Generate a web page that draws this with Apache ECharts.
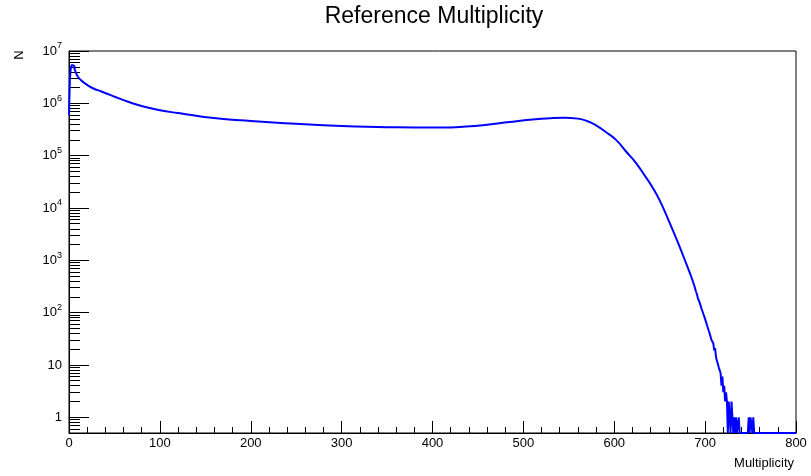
<!DOCTYPE html>
<html>
<head>
<meta charset="utf-8">
<script src="https://cdn.jsdelivr.net/npm/echarts@6/dist/echarts.min.js"></script>
<style>
html, body { margin: 0; padding: 0; background: #fff; }
#chart { width: 811px; height: 476px; }
</style>
</head>
<body>
<div id="chart"></div>
<script>
// 直方图数据 (bin 宽度 1)
// 开头几个 bin, 从 headStart 开始
const headStart = 0
const headN = [6.0e5, 3.0e6, 4.8e6, 5.4e6, 5.6e6, 5.2e6, 4.6e6, 4.1e6, 3.7e6, 3.4e6, 3.15e6]

// 中间平滑部分 (读图取点)
const bodyX = [10, 12, 15, 20, 27, 35, 45, 55, 65, 80, 100, 120, 145, 170, 200, 225, 250, 280, 315, 350,
    380, 410, 437, 460, 485, 510, 530, 545, 560, 570, 580, 591, 602, 613, 624, 633, 642, 650, 661, 670,
    679, 686, 690]
const bodyN = [3.15e6, 2.9e6, 2.6e6, 2.25e6, 1.92e6, 1.7e6, 1.45e6, 1.24e6, 1.07e6, 8.9e5, 7.4e5, 6.5e5, 5.6e5, 5.0e5, 4.6e5, 4.3e5, 4.05e5, 3.8e5, 3.6e5, 3.5e5,
    3.45e5, 3.45e5, 3.6e5, 3.9e5, 4.4e5, 4.9e5, 5.2e5, 5.3e5, 5.1e5, 4.6e5, 3.8e5, 2.8e5, 2.0e5, 1.2e5, 7.2e4, 4.3e4, 2.5e4, 1.4e4, 5.2e3, 2.2e3,
    880, 420, 250]

// 尾部逐 bin, 从 tailStart 开始
const tailStart = 690
const tailN = [250, 225, 190, 175, 155, 150, 120, 115, 95, 85,
    75, 70, 58, 55, 45, 40, 42, 30, 28, 26,
    19, 21, 14, 12, 11, 9, 9, 7, 4, 6,
    3, 4, 2, 3, 2, 0, 2, 1, 0, 2,
    1, 0, 1, 0, 1, 0, 0, 1, 0, 0,
    0, 0, 0, 0, 0, 0, 0, 0, 1, 0,
    1, 1, 0, 1, 0]

// 坐标轴刻度
const xMin = 0
const xMax = 800
const yMin = 0.5
const yMax = 1e7
const yDecades = [1, 10, 1e2, 1e3, 1e4, 1e5, 1e6, 1e7]
const yMinorMantissa = [2, 3, 4, 5, 6, 7, 8, 9]
const yMinorBelowOne = [0.6, 0.7, 0.8, 0.9]

const font = "'Liberation Sans', Arial, Helvetica, sans-serif"

// 对数轴上 0 画在最底部
const toPt = (x, n) => [x, n > 0 ? n : yMin]

const yMinor = yMinorBelowOne.slice()
yDecades.slice(0, -1).forEach(d => {
    yMinorMantissa.forEach(m => yMinor.push(m * d))
})

const headData = headN.map((n, i) => toPt(headStart + i, n))
const bodyData = bodyX.map((x, i) => toPt(x, bodyN[i]))
const tailData = tailN.map((n, i) => toPt(tailStart + i, n)).concat([toPt(xMax, 0)])

const lineStyle = { color: '#0000ff', width: 2 }

const myChart = echarts.init(document.getElementById('chart'))
const option = {
    backgroundColor: '#fff',
    animation: false,
    grid: {
        left: 69,
        right: 15,
        top: 51,
        bottom: 43,
        show: true,
        borderColor: '#000',
        borderWidth: 1,
        containLabel: false,
        outerBoundsMode: 'none'
    },
    graphic: [
        {
            type: 'text', x: 434, y: 17,
            style: { text: 'Reference Multiplicity', font: '23px ' + font, fill: '#000',
                textAlign: 'center', textVerticalAlign: 'middle', align: 'center', verticalAlign: 'middle' }
        },
        {
            type: 'text', x: 794, y: 463,
            style: { text: 'Multiplicity', font: '13px ' + font, fill: '#000',
                textAlign: 'right', textVerticalAlign: 'middle', align: 'right', verticalAlign: 'middle' }
        },
        {
            type: 'text', x: 19, y: 55, rotation: Math.PI / 2,
            style: { text: 'N', font: '13px ' + font, fill: '#000',
                textAlign: 'center', textVerticalAlign: 'middle', align: 'center', verticalAlign: 'middle' }
        }
    ],
    xAxis: {
        type: 'value',
        min: xMin,
        max: xMax,
        interval: 100,
        axisLine: { show: true, lineStyle: { color: '#000', width: 1 } },
        axisTick: { show: true, inside: true, length: 12, lineStyle: { color: '#000' } },
        minorTick: { show: true, splitNumber: 5, length: 6, lineStyle: { color: '#000' } },
        axisLabel: { fontSize: 13, fontFamily: font, color: '#000', margin: 4 },
        splitLine: { show: false },
        minorSplitLine: { show: false }
    },
    yAxis: [
        {
            type: 'log',
            logBase: 10,
            min: yMin,
            max: yMax,
            position: 'left',
            axisLine: { show: true, lineStyle: { color: '#000', width: 1 } },
            axisTick: { show: true, inside: true, length: 20, customValues: yDecades, lineStyle: { color: '#000' } },
            axisLabel: {
                customValues: yDecades,
                margin: 7,
                color: '#000',
                formatter: function (v) {
                    const e = Math.round(Math.log10(v))
                    if (e === 0) return '{b|1}'
                    if (e === 1) return '{b|10}'
                    return '{b|10}{s|' + e + '}'
                },
                rich: {
                    b: { fontSize: 13, fontFamily: font, color: '#000' },
                    s: { fontSize: 9, fontFamily: font, color: '#000', verticalAlign: 'bottom', padding: [0, 0, 10, 0] }
                }
            },
            splitLine: { show: false }
        },
        {
            type: 'log',
            logBase: 10,
            min: yMin,
            max: yMax,
            position: 'left',
            axisLine: { show: false },
            axisTick: { show: true, inside: true, length: 11, customValues: yMinor, lineStyle: { color: '#000' } },
            axisLabel: { show: false },
            splitLine: { show: false }
        }
    ],
    series: [
        { type: 'line', step: 'end', yAxisIndex: 0, data: headData, showSymbol: false, symbol: 'none', lineStyle: lineStyle },
        { type: 'line', smooth: 0.5, yAxisIndex: 0, data: bodyData, showSymbol: false, symbol: 'none', lineStyle: lineStyle },
        { type: 'line', step: 'end', yAxisIndex: 0, data: tailData, showSymbol: false, symbol: 'none', lineStyle: lineStyle }
    ]
}
myChart.setOption(option)
</script>
</body>
</html>
